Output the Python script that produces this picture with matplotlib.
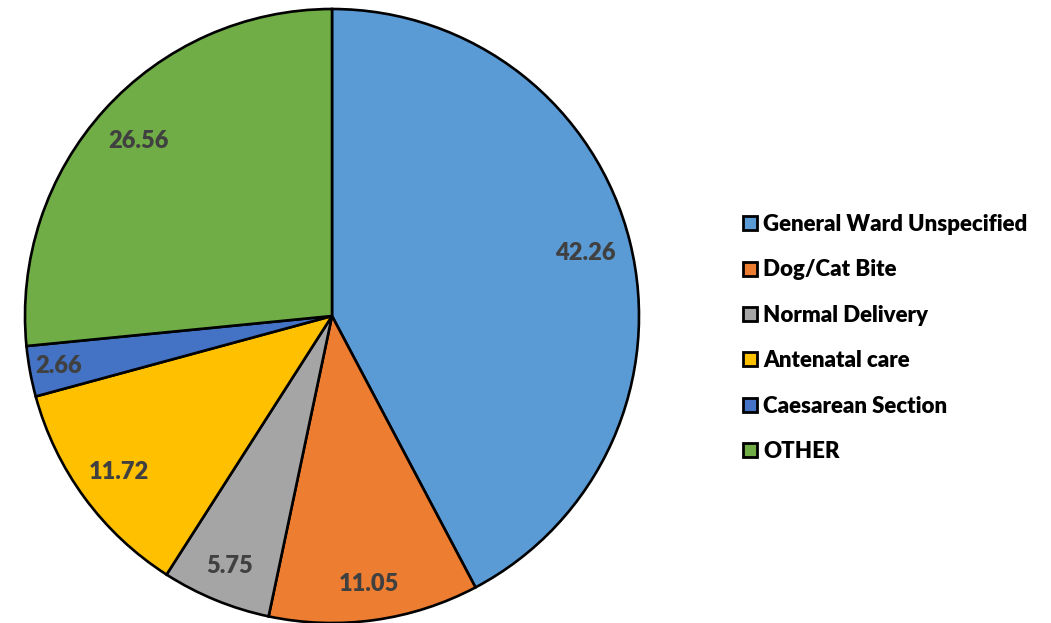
import numpy as np
import matplotlib
matplotlib.use("Agg")
import matplotlib.pyplot as plt
from matplotlib.lines import Line2D

plt.rcParams["font.family"] = ["Lato", "DejaVu Sans"]

categories = ["General Ward Unspecified", "Dog/Cat Bite", "Normal Delivery",
              "Antenatal care", "Caesarean Section", "OTHER"]
shares = [42.26, 11.05, 5.75, 11.72, 2.66, 26.56]
colors = ["#5B9BD5", "#ED7D31", "#A5A5A5", "#FFC000", "#4472C4", "#70AD47"]

# label distance from the centre, as a fraction of the radius
label_r = [0.85, 0.88, 0.88, 0.86, 0.905, 0.85]

fig = plt.figure(figsize=(10.51, 6.23), dpi=100)
ax = fig.add_axes([25 / 1051, 0.0, 614 / 1051, 614 / 623])

wedges, _ = ax.pie(shares, colors=colors, startangle=90, counterclock=False,
                   wedgeprops=dict(edgecolor="black", linewidth=1.9))
for w in wedges:
    w.set_clip_on(False)
ax.set_xlim(-1, 1)
ax.set_ylim(-1, 1)
ax.set_aspect("equal")
ax.axis("off")

for w, val, r in zip(wedges, shares, label_r):
    mid = np.deg2rad((w.theta1 + w.theta2) / 2)
    ax.text(r * np.cos(mid), r * np.sin(mid), f"{val:.2f}",
            ha="center", va="center", fontsize=17, fontweight="heavy",
            color="#404040")

handles = [Line2D([], [], linestyle="none", marker="s", markersize=10,
                  markerfacecolor=c, markeredgecolor="black", markeredgewidth=2)
           for c in colors]
fig.legend(handles, categories, loc="center left",
           bbox_to_anchor=(722 / 1051, 1 - 338 / 623), frameon=False,
           prop=dict(family=["Lato", "DejaVu Sans"], weight="heavy", size=16),
           handlelength=0.7, handletextpad=0.25, labelspacing=1.1)

fig.savefig("out.png", dpi=100)
